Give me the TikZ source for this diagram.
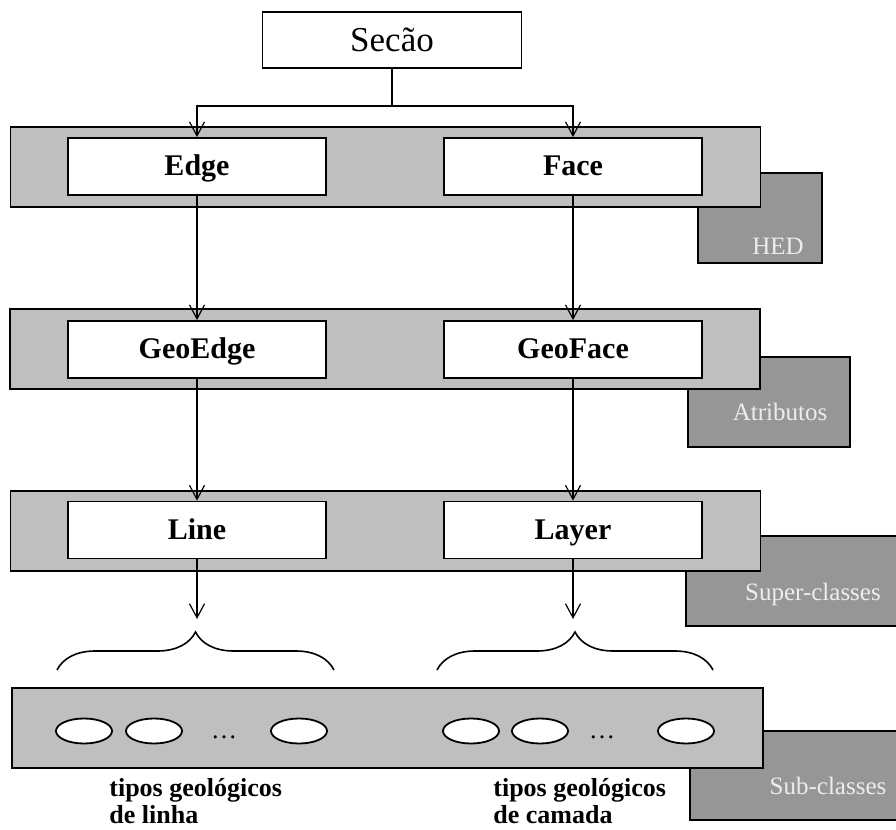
\documentclass[tikz,border=0pt]{standalone}
\usepackage{fontspec}
\setmainfont{Liberation Serif}
\usepackage{xcolor}
\usepackage{tikz}
\usetikzlibrary{arrows.meta,positioning,calc,shapes.geometric,decorations.pathreplacing}

\begin{document}
\begin{tikzpicture}[
    x=0.5pt, y=-0.5pt,
    panel/.style={draw, line width=0.9pt, fill=black!25, minimum width=375pt, minimum height=40pt, inner sep=0pt},
    cls/.style={draw, line width=0.9pt, fill=white, minimum width=129pt, minimum height=28.5pt, inner sep=0pt, text height=10pt, text depth=1pt, font=\fontsize{15}{18}\selectfont\bfseries},
    tag/.style={draw, line width=0.9pt, fill=black!41, minimum height=45pt, inner sep=0pt},
    taglbl/.style={text=white!93!black, inner sep=0pt, text height=8.5pt, text depth=1pt, font=\fontsize{12.5}{15}\selectfont},
    inst/.style={draw, ellipse, line width=0.9pt, fill=white, minimum width=28pt, minimum height=12.5pt, inner sep=0pt},
    geo/.style={align=left, anchor=north west, inner sep=0pt, font=\fontsize{13}{13.5}\selectfont\bfseries},
    line/.style={line width=0.6pt},
    arr/.style={-{Straight Barb[length=7pt,width=7.5pt]}, line width=0.6pt},
    brace/.style={decorate, decoration={brace, amplitude=19pt}, line width=0.8pt},
]
    \useasboundingbox (0,0) rectangle (896,830);

    % tags (behind the panels)
    \node[tag, minimum width=62pt] (hed) at (760, 218) {};
    \node[tag, minimum width=81pt] (attr) at (769, 402) {};
    \node[tag, minimum width=105.5pt] (super) at (791.5, 581) {};
    \node[tag, minimum width=103.5pt, minimum height=44.5pt] (sub) at (793.5, 775.5) {};
    \node[taglbl] (hedlbl) at (778, 247) {HED};
    \node[taglbl] (attrlbl) at (780, 413) {Atributos};
    \node[taglbl] (superlbl) at (813, 593) {Super-classes};
    \node[taglbl] (sublbl) at (828, 787) {Sub-classes};

    % panels
    \node[panel] (hedpanel) at (385.5, 167) {};
    \node[panel] (attrpanel) at (385, 349) {};
    \node[panel] (superpanel) at (385.5, 531) {};
    \node[panel, minimum width=375.5pt] (subpanel) at (387.5, 728) {};

    \node[draw, line width=0.9pt, minimum width=129.5pt, minimum height=28pt, inner sep=0pt, font=\fontsize{17.5}{20}\selectfont] (secao) at (392, 40) {Secão};

    \node[cls] (edge) at (197, 166.5) {Edge};
    \node[cls] (face) at (573, 166.5) {Face};
    \node[cls] (geoedge) at (197, 349.5) {GeoEdge};
    \node[cls] (geoface) at (573, 349.5) {GeoFace};
    \node[cls] (line) at (197, 530) {Line};
    \node[cls] (layer) at (573, 530) {Layer};

    % geological types
    \node[inst] (l1) at (84, 731) {};
    \node[inst] (l2) at (154, 731) {};
    \node[font=\fontsize{13}{15}\selectfont] (ldots) at (224, 737) {\dots};
    \node[inst] (l3) at (299, 731) {};
    \node[inst] (c1) at (471, 731) {};
    \node[inst] (c2) at (540, 731) {};
    \node[font=\fontsize{13}{15}\selectfont] (cdots) at (602, 737) {\dots};
    \node[inst] (c3) at (686, 731) {};

    \node[geo] (lintxt) at (109, 778) {tipos geológicos\\de linha};
    \node[geo] (camtxt) at (493, 778) {tipos geológicos\\de camada};

    \coordinate (split) at (392, 106);
    \coordinate (linetip) at (197, 619);
    \coordinate (layertip) at (573, 619);

    \draw[line] (secao) -- (split);
    \draw[arr] (split) -| (edge.north);
    \draw[arr] (split) -| (face.north);
    \draw[arr] (edge) -- (geoedge);
    \draw[arr] (face) -- (geoface);
    \draw[arr] (geoedge) -- (line);
    \draw[arr] (geoface) -- (layer);
    \draw[arr] (line) -- (linetip);
    \draw[arr] (layer) -- (layertip);

    \draw[brace] (57, 670) -- (334, 670);
    \draw[brace] (437, 670) -- (713, 670);
\end{tikzpicture}
\end{document}
